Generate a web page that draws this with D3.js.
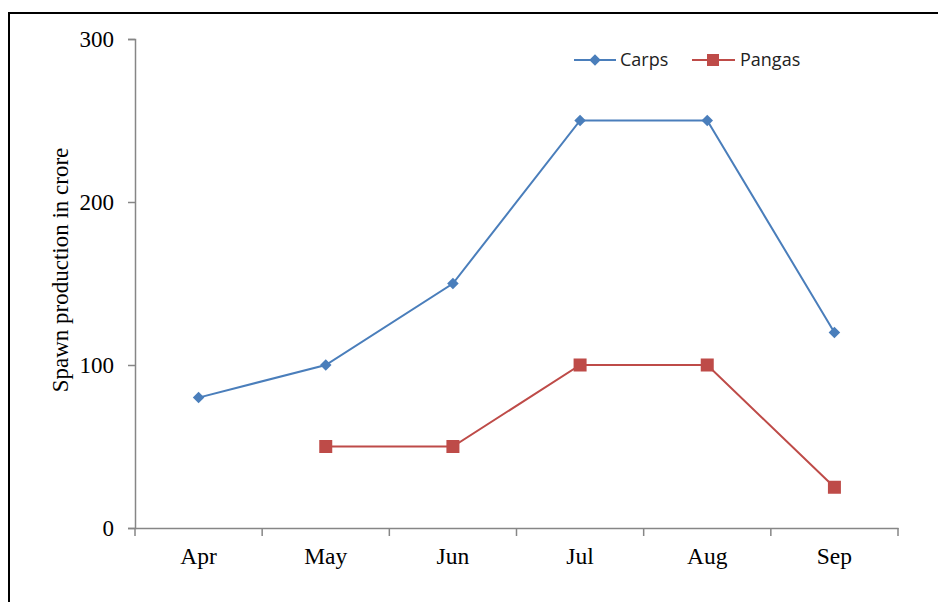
<!DOCTYPE html>
<html><head><meta charset="utf-8">
<script src="https://cdn.jsdelivr.net/npm/d3@7"></script>
<style>body{margin:0;background:#fff}svg{display:block}</style>
</head><body>
<script>
const categories = ["Apr","May","Jun","Jul","Aug","Sep"];
const carps = [80,100,150,250,250,120];
const pangas = [null,50,50,100,100,25];
const yTicks = [0,100,200,300];

(function(){
const W=938,H=602;
const svg=d3.select("body").append("svg").attr("width",W).attr("height",H);
svg.append("rect").attr("x",9).attr("y",13).attr("width",W+10).attr("height",H+10)
  .attr("fill","none").attr("stroke","#000").attr("stroke-width",2);

const mL=135,mR=898,mT=39,mB=528;
const x=d3.scaleBand().domain(categories).range([mL,mR]);
const y=d3.scaleLinear().domain([0,300]).range([mB,mT]);
const axisColor="#868686";
const serif="Liberation Serif, Times New Roman, serif";

const xg=svg.append("g").attr("transform",`translate(0,${mB})`)
  .call(d3.axisBottom(x).tickSize(0).tickPadding(19));
xg.select(".domain").attr("stroke",axisColor).attr("stroke-width",1.5);
xg.selectAll("text").attr("font-family",serif).attr("font-size",23.5).attr("fill","#000");
const bounds=categories.map(c=>x(c)).concat([x(categories[categories.length-1])+x.bandwidth()]);
xg.selectAll(".btick").data(bounds).enter().append("line")
  .attr("x1",d=>d).attr("x2",d=>d).attr("y1",0).attr("y2",8)
  .attr("stroke",axisColor).attr("stroke-width",1.5);

const yg=svg.append("g").attr("transform",`translate(${mL},0)`)
  .call(d3.axisLeft(y).tickValues(yTicks).tickSize(7).tickPadding(14));
yg.select(".domain").attr("stroke",axisColor).attr("stroke-width",1.5);
yg.selectAll(".tick line").attr("stroke",axisColor).attr("stroke-width",1.5);
yg.selectAll("text").attr("font-family",serif).attr("font-size",23).attr("fill","#000");

svg.append("text").attr("transform",`translate(68,270) rotate(-90)`)
  .attr("text-anchor","middle").attr("font-family",serif).attr("font-size",23)
  .text("Spawn production in crore");

const cx=c=>x(c)+x.bandwidth()/2;
const blue="#4A7EBB", red="#BE4B48";
const line=d3.line().defined(d=>d.v!=null).x(d=>cx(d.c)).y(d=>y(d.v));
const cd=categories.map((c,i)=>({c,v:carps[i]}));
const pd=categories.map((c,i)=>({c,v:pangas[i]}));
svg.append("path").datum(cd).attr("d",line).attr("fill","none").attr("stroke",blue).attr("stroke-width",2);
svg.append("path").datum(pd).attr("d",line).attr("fill","none").attr("stroke",red).attr("stroke-width",2);
const diamond=d3.symbol().type(d3.symbolDiamond2).size(85);
svg.selectAll(".cm").data(cd).enter().append("path")
  .attr("transform",d=>`translate(${cx(d.c)},${y(d.v)})`)
  .attr("d",diamond).attr("fill",blue);
svg.selectAll(".pm").data(pd.filter(d=>d.v!=null)).enter().append("rect")
  .attr("x",d=>cx(d.c)-6.5).attr("y",d=>y(d.v)-6.5).attr("width",13).attr("height",13)
  .attr("fill",red);

const lg=svg.append("g");
lg.append("line").attr("x1",574).attr("x2",616).attr("y1",60).attr("y2",60).attr("stroke",blue).attr("stroke-width",2);
lg.append("path").attr("transform","translate(595,60)").attr("d",diamond).attr("fill",blue);
lg.append("text").attr("x",620).attr("y",66).attr("font-family","Open Sans").attr("font-size",18).attr("fill","#222").text("Carps");
lg.append("line").attr("x1",692).attr("x2",735).attr("y1",60).attr("y2",60).attr("stroke",red).attr("stroke-width",2);
lg.append("rect").attr("x",707).attr("y",54).attr("width",12).attr("height",12).attr("fill",red);
lg.append("text").attr("x",740).attr("y",66).attr("font-family","Open Sans").attr("font-size",18).attr("fill","#222").text("Pangas");
})();
</script>
</body></html>
